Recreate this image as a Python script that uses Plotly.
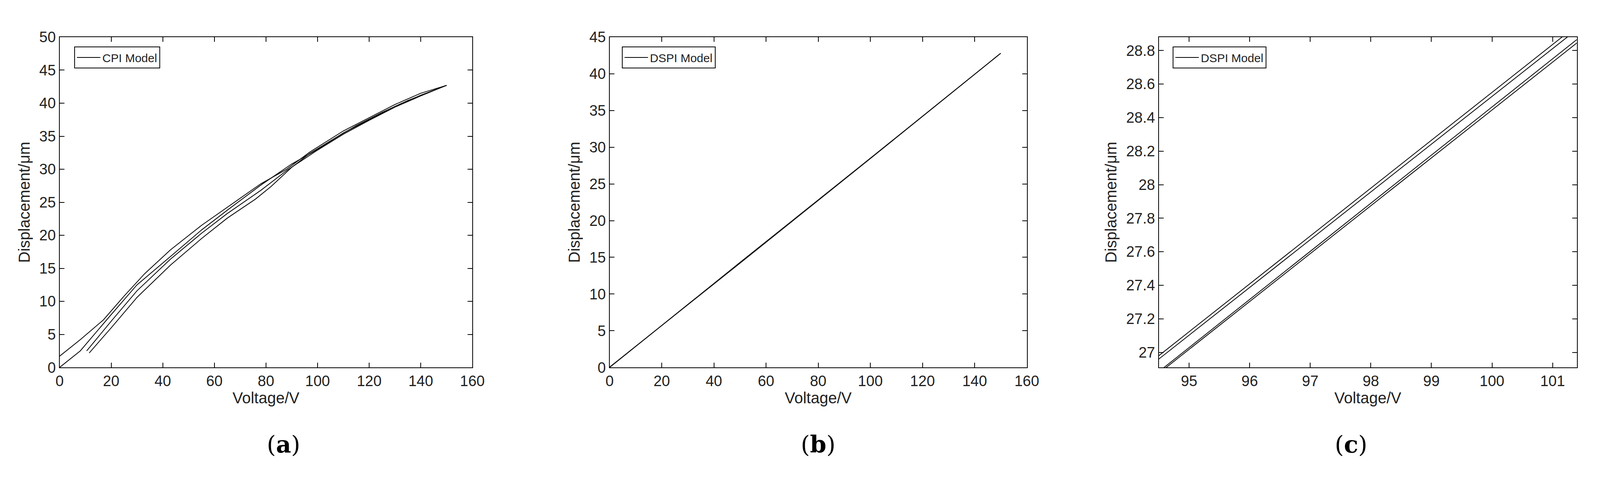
import plotly.graph_objects as go

# Panel (a): CPI model hysteresis branches
a_x1 = [0, 8, 20, 30, 43, 55, 65, 78, 90, 100, 110, 120, 130, 140, 150]
a_y1 = [0, 2.5, 8, 12.5, 16.8, 20.8, 23.8, 27.6, 30.8, 33.0, 35.5, 37.5, 39.5, 41.2, 42.7]
a_x2 = [150, 140, 130, 120, 110, 97, 88, 78, 66, 55, 43, 33, 25, 17, 8, 0]
a_y2 = [42.7, 41.5, 39.8, 37.8, 35.8, 32.6, 30.0, 27.8, 24.5, 21.5, 17.8, 14.2, 10.8, 7.2, 4.2, 1.7]
a_x3 = [10.5, 20, 30, 43, 55, 65, 78, 88, 100, 110, 120, 130, 140, 150]
a_y3 = [2.5, 7.0, 11.6, 16.4, 20.3, 23.3, 26.8, 29.8, 32.9, 35.3, 37.4, 39.4, 41.1, 42.7]
a_x4 = [11.5, 20, 30, 43, 55, 65, 76, 82, 90, 97, 105, 115, 125, 135, 150]
a_y4 = [2.2, 6.0, 10.6, 15.5, 19.5, 22.6, 25.5, 27.4, 30.3, 32.4, 34.3, 36.6, 38.6, 40.4, 42.7]

# Panel (b): DSPI model branches
b_x1 = [0, 50, 100, 150]
b_y1 = [0.0, 14.3, 28.5, 42.8]
b_x2 = [150, 100, 50, 0]
b_y2 = [42.8, 28.45, 14.2, 0.05]

# Panel (c): zoom of DSPI branches
c_x = [94.5, 101.4]
c_y1 = [26.98, 28.95]
c_y2 = [26.96, 28.925]
c_y3 = [26.885, 28.865]
c_y4 = [26.875, 28.845]

FONT = "Liberation Sans"
fig = go.Figure()
line = dict(color="black", width=2)

def add(x, y, ax, name, show, leg):
    fig.add_trace(go.Scatter(x=x, y=y, mode="lines", line=line, name=name,
                             showlegend=show, xaxis="x" + ax, yaxis="y" + ax, legend=leg))

add(a_x1, a_y1, "", "CPI Model", True, "legend")
add(a_x2, a_y2, "", "CPI Model", False, "legend")
add(a_x3, a_y3, "", "CPI Model", False, "legend")
add(a_x4, a_y4, "", "CPI Model", False, "legend")
add(b_x1, b_y1, "2", "DSPI Model", True, "legend2")
add(b_x2, b_y2, "2", "DSPI Model", False, "legend2")
add(c_x, c_y1, "3", "DSPI Model", True, "legend3")
add(c_x, c_y2, "3", "DSPI Model", False, "legend3")
add(c_x, c_y3, "3", "DSPI Model", False, "legend3")
add(c_x, c_y4, "3", "DSPI Model", False, "legend3")

axcommon = dict(showline=True, mirror="ticks", linecolor="black", linewidth=2,
                ticks="inside", ticklen=12, tickwidth=2, tickcolor="black",
                showgrid=False, zeroline=False,
                tickfont=dict(family=FONT, size=38, color="#222"),
                title_font=dict(family=FONT, size=40, color="#222"))
domains = [[0.032, 0.2853], [0.3695, 0.6255], [0.7065, 0.963]]
yd = [0.24, 0.945]

lay = dict(width=4215, height=1241, plot_bgcolor="white", paper_bgcolor="white",
           margin=dict(l=0, r=0, t=0, b=0), font=dict(family=FONT))
lay["xaxis"] = dict(axcommon, domain=domains[0], range=[0, 160], dtick=20, title=dict(text="Voltage/V", standoff=4), anchor="y")
lay["yaxis"] = dict(axcommon, domain=yd, range=[0, 50], dtick=5, title=dict(text="Displacement/μm", standoff=12), anchor="x")
lay["xaxis2"] = dict(axcommon, domain=domains[1], range=[0, 160], dtick=20, title=dict(text="Voltage/V", standoff=4), anchor="y2")
lay["yaxis2"] = dict(axcommon, domain=yd, range=[0, 45], dtick=5, title=dict(text="Displacement/μm", standoff=12), anchor="x2")
lay["xaxis3"] = dict(axcommon, domain=domains[2], range=[94.5, 101.4], dtick=1, title=dict(text="Voltage/V", standoff=4), anchor="y3")
lay["yaxis3"] = dict(axcommon, domain=yd, range=[26.91, 28.88], tick0=27, dtick=0.2, title=dict(text="Displacement/μm", standoff=12), anchor="x3")
fig.update_layout(**lay)

legcommon = dict(bgcolor="white", bordercolor="black", borderwidth=2,
                 font=dict(family=FONT, size=30, color="#222"), xanchor="left", yanchor="top",
                 itemwidth=60)
fig.update_layout(
    legend=dict(legcommon, x=0.041, y=0.925),
    legend2=dict(legcommon, x=0.377, y=0.925),
    legend3=dict(legcommon, x=0.715, y=0.925),
)

for lab, xd in zip(["a", "b", "c"], domains):
    fig.add_annotation(xref="paper", yref="paper", x=(xd[0] + xd[1]) / 2, y=0.045,
                       text="(<b>%s</b>)" % lab, showarrow=False,
                       font=dict(family="DejaVu Serif", size=60, color="black"))

fig.write_html("out.html")
